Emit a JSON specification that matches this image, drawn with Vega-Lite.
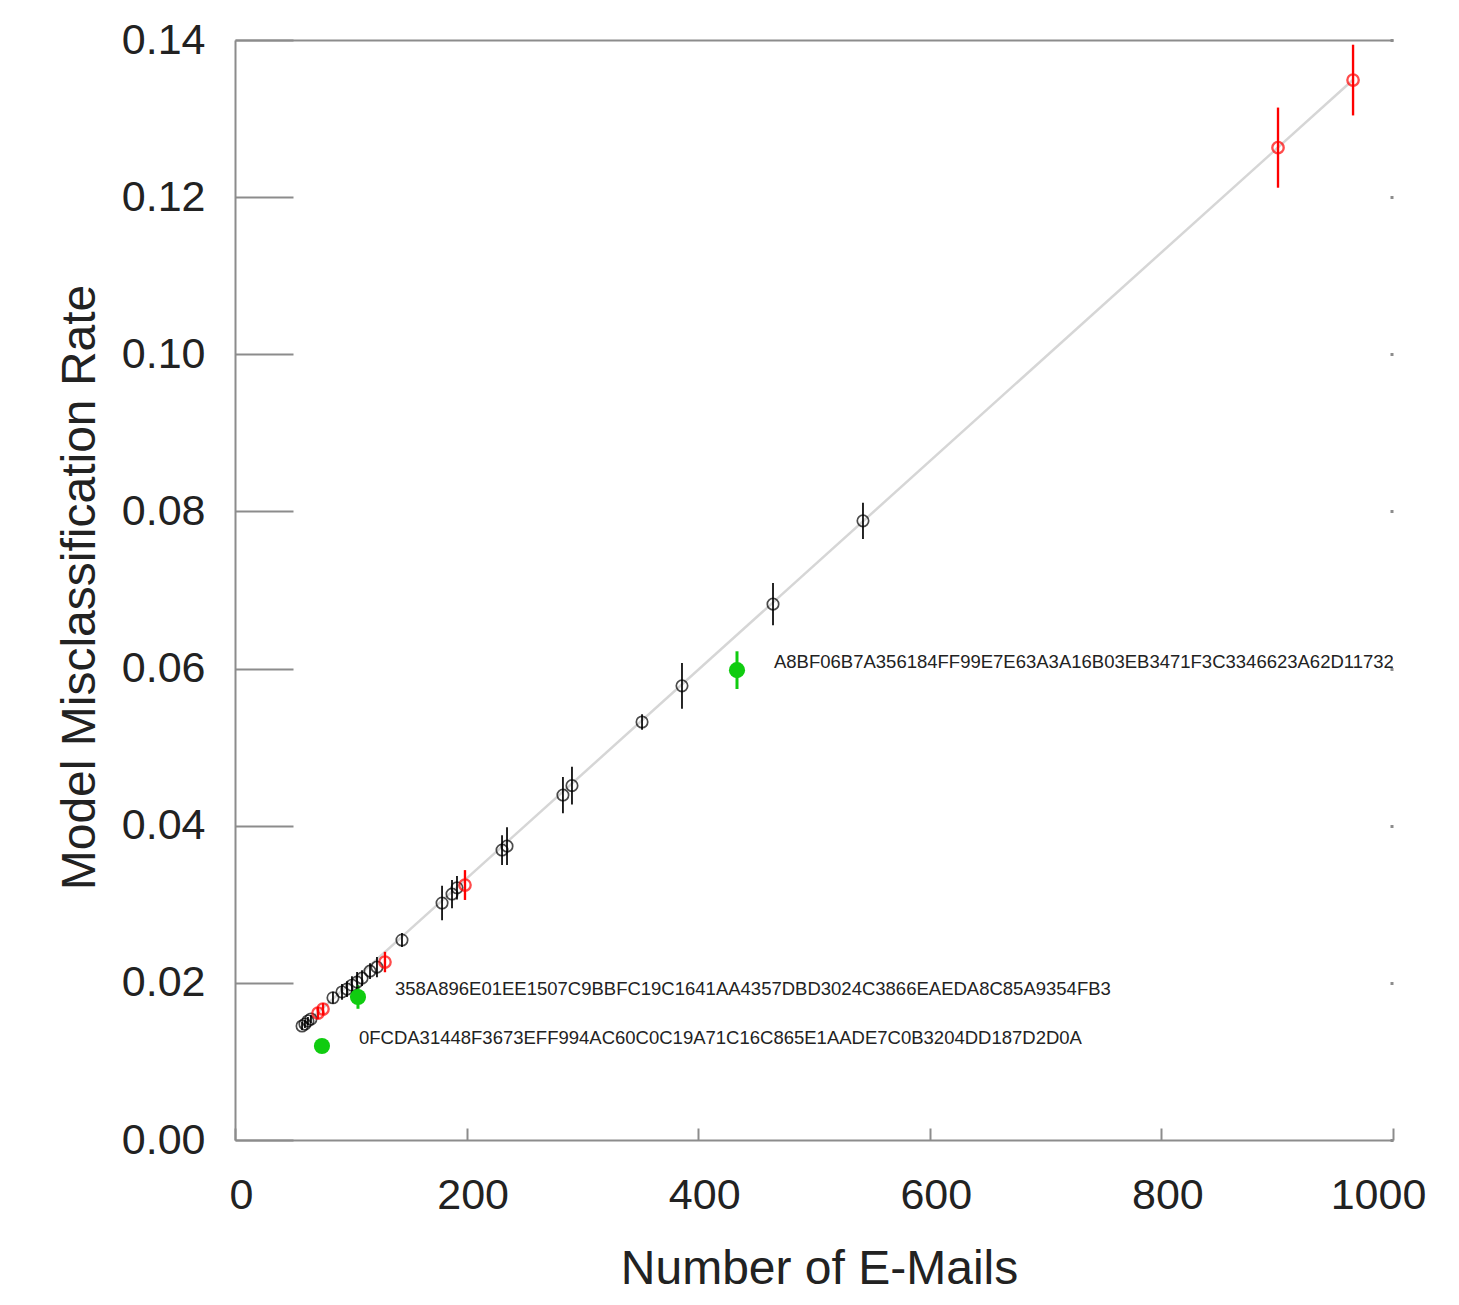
{
  "$schema": "https://vega.github.io/schema/vega-lite/v6.json",
  "width": 1158,
  "height": 1100,
  "autosize": "none",
  "padding": {"left": 235, "top": 40, "right": 66, "bottom": 165},
  "background": "white",
  "config": {
    "view": {"stroke": null},
    "axis": {
      "labelFont": "Liberation Sans",
      "titleFont": "Liberation Sans",
      "labelColor": "#222222",
      "titleColor": "#222222",
      "labelFontSize": 43,
      "titleFontSize": 48,
      "titleFontWeight": "normal",
      "domainColor": "#8c8c8c",
      "tickColor": "#8c8c8c",
      "domainWidth": 2,
      "tickWidth": 2,
      "grid": false,
      "labelFlush": false
    }
  },
  "datasets": {
    "pts": [
      {"n": 57.9, "rate": 0.01451, "lo": 0.01401, "hi": 0.01501, "grp": "black", "label": ""},
      {"n": 60.4, "rate": 0.01476, "lo": 0.01426, "hi": 0.01526, "grp": "black", "label": ""},
      {"n": 63.0, "rate": 0.01515, "lo": 0.01465, "hi": 0.01565, "grp": "black", "label": ""},
      {"n": 65.6, "rate": 0.0154, "lo": 0.0149, "hi": 0.0159, "grp": "black", "label": ""},
      {"n": 71.7, "rate": 0.01616, "lo": 0.0154, "hi": 0.01692, "grp": "red", "label": ""},
      {"n": 76.0, "rate": 0.01667, "lo": 0.01591, "hi": 0.01743, "grp": "red", "label": ""},
      {"n": 84.6, "rate": 0.0181, "lo": 0.01734, "hi": 0.01886, "grp": "black", "label": ""},
      {"n": 92.4, "rate": 0.01884, "lo": 0.01784, "hi": 0.01984, "grp": "black", "label": ""},
      {"n": 96.7, "rate": 0.0192, "lo": 0.0182, "hi": 0.0202, "grp": "black", "label": ""},
      {"n": 101.0, "rate": 0.0197, "lo": 0.01855, "hi": 0.02085, "grp": "black", "label": ""},
      {"n": 105.4, "rate": 0.0201, "lo": 0.01883, "hi": 0.02137, "grp": "black", "label": ""},
      {"n": 109.7, "rate": 0.0206, "lo": 0.0196, "hi": 0.0216, "grp": "black", "label": ""},
      {"n": 116.6, "rate": 0.0215, "lo": 0.0205, "hi": 0.0225, "grp": "black", "label": ""},
      {"n": 122.6, "rate": 0.022, "lo": 0.0207, "hi": 0.0233, "grp": "black", "label": ""},
      {"n": 129.5, "rate": 0.02265, "lo": 0.02135, "hi": 0.02395, "grp": "red", "label": ""},
      {"n": 144.2, "rate": 0.02545, "lo": 0.02455, "hi": 0.02635, "grp": "black", "label": ""},
      {"n": 178.8, "rate": 0.03016, "lo": 0.02796, "hi": 0.03236, "grp": "black", "label": ""},
      {"n": 187.4, "rate": 0.0313, "lo": 0.0295, "hi": 0.0331, "grp": "black", "label": ""},
      {"n": 191.7, "rate": 0.0321, "lo": 0.0306, "hi": 0.0336, "grp": "black", "label": ""},
      {"n": 198.6, "rate": 0.03245, "lo": 0.03055, "hi": 0.03435, "grp": "red", "label": ""},
      {"n": 230.6, "rate": 0.0369, "lo": 0.035, "hi": 0.0388, "grp": "black", "label": ""},
      {"n": 234.9, "rate": 0.0374, "lo": 0.035, "hi": 0.0398, "grp": "black", "label": ""},
      {"n": 283.2, "rate": 0.0439, "lo": 0.0416, "hi": 0.0462, "grp": "black", "label": ""},
      {"n": 291.0, "rate": 0.0451, "lo": 0.0427, "hi": 0.0475, "grp": "black", "label": ""},
      {"n": 351.5, "rate": 0.0532, "lo": 0.0522, "hi": 0.0542, "grp": "black", "label": ""},
      {"n": 386.0, "rate": 0.0578, "lo": 0.0549, "hi": 0.0607, "grp": "black", "label": ""},
      {"n": 464.6, "rate": 0.0682, "lo": 0.0655, "hi": 0.0709, "grp": "black", "label": ""},
      {"n": 542.3, "rate": 0.0788, "lo": 0.0765, "hi": 0.0811, "grp": "black", "label": ""},
      {"n": 900.7, "rate": 0.1263, "lo": 0.1212, "hi": 0.1314, "grp": "red", "label": ""},
      {"n": 965.5, "rate": 0.1349, "lo": 0.1304, "hi": 0.1394, "grp": "red", "label": ""},
      {"n": 433.5, "rate": 0.0598, "lo": 0.0574, "hi": 0.0622, "grp": "green", "label": "A8BF06B7A356184FF99E7E63A3A16B03EB3471F3C3346623A62D11732E5F0C9B"},
      {"n": 106.2, "rate": 0.0182, "lo": 0.0167, "hi": 0.0197, "grp": "green", "label": "358A896E01EE1507C9BBFC19C1641AA4357DBD3024C3866EAEDA8C85A9354FB3"},
      {"n": 75.1, "rate": 0.01196, "lo": 0.01166, "hi": 0.01226, "grp": "green", "label": "0FCDA31448F3673EFF994AC60C0C19A71C16C865E1AADE7C0B3204DD187D2D0A"}
    ],
    "fit": [
      {"n": 57, "rate": 0.0143},
      {"n": 966, "rate": 0.135}
    ]
  },
  "resolve": {"axis": {"x": "independent", "y": "independent"}},
  "layer": [
    {
      "data": {"name": "fit"},
      "mark": {"type": "line", "color": "#d6d6d6", "strokeWidth": 2.5},
      "encoding": {
        "x": {"field": "n", "type": "quantitative", "scale": {"domain": [0, 1000], "nice": false, "zero": false},
          "axis": {"orient": "top", "labels": false, "ticks": false, "title": null, "domain": true}},
        "y": {"field": "rate", "type": "quantitative", "scale": {"domain": [0, 0.14], "nice": false, "zero": false},
          "axis": {"orient": "right", "labels": false, "domain": false, "title": null, "values": [0, 0.02, 0.04, 0.06, 0.08, 0.1, 0.12, 0.14], "tickSize": -3, "tickWidth": 3}}
      }
    },
    {
      "data": {"name": "pts"},
      "mark": {"type": "rule"},
      "encoding": {
        "x": {"field": "n", "type": "quantitative", "scale": {"domain": [0, 1000], "nice": false, "zero": false},
          "axis": {"orient": "bottom", "title": "Number of E-Mails", "values": [0, 200, 400, 600, 800, 1000], "format": "d",
            "tickSize": -12, "labelBaseline": "alphabetic", "labelPadding": 80,
            "labelOffset": {"condition": {"test": "datum.value === 1000", "value": -15}, "value": 6},
            "titleX": 584, "titleY": 143, "titleBaseline": "alphabetic", "titleAnchor": "middle", "titleAlign": "center"}},
        "y": {"field": "lo", "type": "quantitative", "scale": {"domain": [0, 0.14], "nice": false, "zero": false},
          "axis": {"orient": "left", "title": "Model Misclassification Rate", "values": [0, 0.02, 0.04, 0.06, 0.08, 0.1, 0.12, 0.14], "format": ".2f",
            "tickSize": -58, "labelPadding": 88, "labelBaseline": "alphabetic", "labelOffset": 13,
            "titleX": -141, "titleY": 547, "titleBaseline": "alphabetic", "titleAngle": -90, "titleAlign": "center", "titleAnchor": "middle"}},
        "y2": {"field": "hi"},
        "color": {"field": "grp", "type": "nominal", "scale": {"domain": ["black", "red", "green"], "range": ["#000000", "#ff0000", "#10cc10"]}, "legend": null},
        "strokeWidth": {"field": "grp", "type": "nominal", "scale": {"domain": ["black", "red", "green"], "range": [1.7, 3, 8]}, "legend": null}
      }
    },
    {
      "data": {"name": "pts"},
      "transform": [{"filter": "datum.grp !== 'green'"}],
      "mark": {"type": "point", "shape": "circle", "filled": false, "size": 130},
      "encoding": {
        "x": {"field": "n", "type": "quantitative", "axis": null},
        "y": {"field": "rate", "type": "quantitative", "axis": null},
        "color": {"field": "grp", "type": "nominal", "scale": {"domain": ["black", "red", "green"], "range": ["#000000", "#ff0000", "#10cc10"]}, "legend": null},
        "strokeWidth": {"field": "grp", "type": "nominal", "scale": {"domain": ["black", "red", "green"], "range": [1.6, 2.6, 2]}, "legend": null}
      }
    },
    {
      "data": {"name": "pts"},
      "transform": [{"filter": "datum.grp === 'green'"}],
      "mark": {"type": "point", "shape": "circle", "filled": true, "size": 260, "opacity": 1, "color": "#10cc10"},
      "encoding": {
        "x": {"field": "n", "type": "quantitative", "axis": null},
        "y": {"field": "rate", "type": "quantitative", "axis": null}
      }
    },
    {
      "data": {"name": "pts"},
      "transform": [{"filter": "datum.grp === 'green'"}],
      "mark": {"type": "text", "align": "left", "baseline": "middle", "dx": 37, "dy": -8, "font": "Liberation Sans", "fontSize": 18.5, "color": "#222222", "clip": true},
      "encoding": {
        "x": {"field": "n", "type": "quantitative", "axis": null},
        "y": {"field": "rate", "type": "quantitative", "axis": null},
        "text": {"field": "label"}
      }
    }
  ]
}
